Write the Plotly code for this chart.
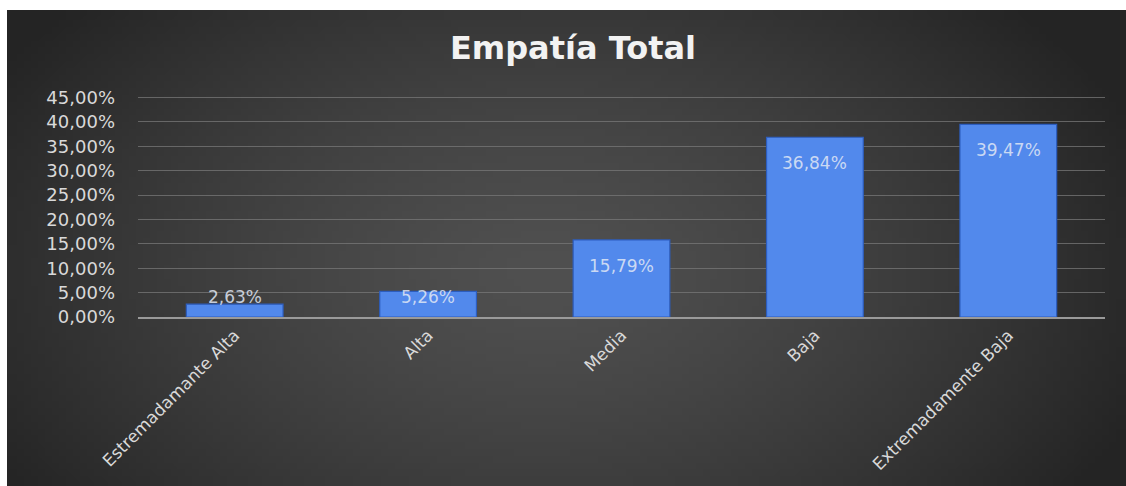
import base64, struct, zlib
import numpy as np
import plotly.graph_objects as go

# ---- data ----
categories = ["Estremadamante Alta", "Alta", "Media", "Baja", "Extremadamente Baja"]
values = [0.0263, 0.0526, 0.1579, 0.3684, 0.3947]
y_ticks = [0.00, 0.05, 0.10, 0.15, 0.20, 0.25, 0.30, 0.35, 0.40, 0.45]
title_text = "Empatía Total"

# ---- layout geometry ----
W, H = 1126, 486
ML, MR, MT, MB = 138, 21, 96, 169
PW, PH = W - ML - MR, H - MT - MB
PANEL_X0, PANEL_Y0 = 7, 10


def make_png(w, h):
    xs = np.linspace(0, 1, w)
    ys = np.linspace(0, 1, h)
    X, Y = np.meshgrid(xs, ys)
    d = np.sqrt(((X - 0.48) / 0.58) ** 2 + ((Y - 0.55) / 0.85) ** 2)
    d = np.clip(d, 0, 1)
    v = 80 - 44 * d ** 1.4
    img = np.clip(v, 0, 255).astype(np.uint8)
    raw = b"".join(b"\x00" + bytes(np.repeat(row[:, None], 3, axis=1).flatten()) for row in img)

    def chunk(t, data):
        c = struct.pack(">I", len(data)) + t + data
        return c + struct.pack(">I", zlib.crc32(t + data) & 0xffffffff)

    png = b"\x89PNG\r\n\x1a\n"
    png += chunk(b"IHDR", struct.pack(">IIBBBBB", w, h, 8, 2, 0, 0, 0))
    png += chunk(b"IDAT", zlib.compress(raw, 9))
    png += chunk(b"IEND", b"")
    return "data:image/png;base64," + base64.b64encode(png).decode()


bg_src = make_png(160, 70)

fig = go.Figure()
fig.add_trace(go.Bar(
    x=categories, y=values,
    marker=dict(color="#5289ec", line=dict(color="#2c5dbf", width=1.2)),
    hoverinfo="skip",
))

# data labels, "inside end" style
annotations = []
for c, v in zip(categories, values):
    ypos = max(v - 0.053, 0.041)
    annotations.append(dict(
        x=c, y=ypos, xref="x", yref="y", text=f"{v*100:.2f}%".replace(".", ","),
        showarrow=False, yanchor="middle",
        font=dict(family="DejaVu Sans", size=17, color="rgba(225,232,245,0.85)"),
    ))

fig.update_layout(
    width=W, height=H,
    margin=dict(l=ML, r=MR, t=MT, b=MB),
    paper_bgcolor="white",
    plot_bgcolor="rgba(0,0,0,0)",
    separators=",.",
    showlegend=False,
    bargap=0.5,
    title=dict(
        text=title_text, x=573 / W, xref="container", xanchor="center",
        y=1 - 48 / H, yref="container", yanchor="middle",
        font=dict(family="DejaVu Sans", size=32, color="#f2f2f2", weight="bold"),
    ),
    annotations=annotations,
    images=[dict(
        source=bg_src, xref="paper", yref="paper",
        x=(PANEL_X0 - ML) / PW, y=(H - MB - PANEL_Y0) / PH,
        sizex=(W - PANEL_X0) / PW, sizey=(H - PANEL_Y0) / PH,
        xanchor="left", yanchor="top", sizing="stretch", layer="below",
    )],
)

fig.update_yaxes(
    range=[0, 0.453], tickvals=y_ticks, tickformat=".2%",
    showgrid=True, gridcolor="rgba(120,120,120,0.75)", gridwidth=1,
    zeroline=False, showline=False, ticks="",
    ticklabelstandoff=22,
    tickfont=dict(family="DejaVu Sans", size=18, color="#d9d9d9"),
)
fig.update_xaxes(
    showgrid=False, showline=True, linecolor="#9a9a9a", linewidth=1.5,
    ticks="", tickangle=-45,
    tickfont=dict(family="DejaVu Sans", size=17, color="#d9d9d9"),
)

fig.write_html("out.html")
